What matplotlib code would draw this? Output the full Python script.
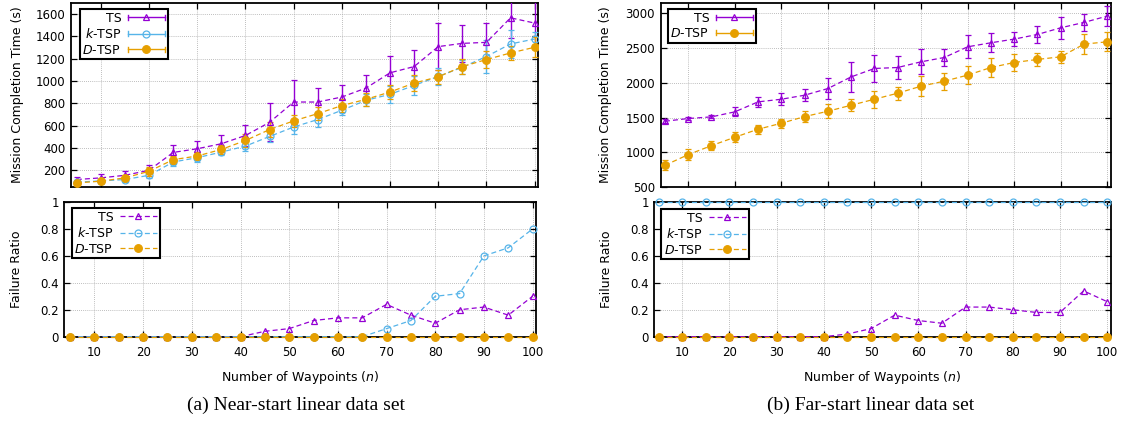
import matplotlib
matplotlib.use("Agg")
import matplotlib.pyplot as plt
from matplotlib.lines import Line2D
from matplotlib.legend_handler import HandlerBase
from matplotlib.ticker import FuncFormatter

# ---------------- data ----------------
n = [5, 10, 15, 20, 25, 30, 35, 40, 45, 50, 55, 60, 65, 70, 75, 80, 85, 90, 95, 100]

# (a) near-start: mission completion time (mean, error)
ts_near = [117, 132, 155, 200, 360, 393, 438, 512, 630, 812, 812, 857, 937, 1074, 1130, 1309, 1338, 1347, 1567, 1520]
ts_near_err = [25, 35, 40, 48, 70, 70, 75, 95, 170, 195, 130, 110, 116, 155, 150, 210, 167, 170, 180, 200]
k_near = [93, 105, 117, 155, 274, 313, 363, 417, 503, 588, 655, 738, 827, 881, 961, 1041, 1124, 1220, 1333, 1377]
k_near_err = [15, 15, 20, 25, 40, 35, 30, 40, 50, 60, 65, 45, 55, 75, 83, 80, 65, 146, 125, 60]
d_near = [87, 102, 132, 191, 295, 328, 387, 467, 565, 643, 708, 780, 836, 902, 982, 1038, 1130, 1193, 1252, 1303]
d_near_err = [15, 20, 25, 40, 35, 35, 40, 60, 70, 57, 60, 55, 60, 65, 70, 60, 70, 80, 60, 90]

# (b) far-start: mission completion time (mean, error)
ts_far = [1447, 1486, 1510, 1582, 1726, 1764, 1822, 1918, 2086, 2207, 2221, 2303, 2365, 2519, 2577, 2630, 2697, 2793, 2870, 2962]
ts_far_err = [30, 20, 20, 65, 70, 90, 90, 150, 220, 190, 160, 180, 125, 165, 135, 105, 120, 160, 125, 145]
d_far = [812, 966, 1096, 1216, 1332, 1418, 1514, 1591, 1678, 1764, 1851, 1952, 2024, 2111, 2221, 2293, 2337, 2375, 2558, 2591]
d_far_err = [70, 77, 60, 70, 65, 65, 75, 100, 85, 125, 95, 145, 125, 125, 140, 120, 100, 85, 145, 135]

# failure ratios
ts_fail_near = [0, 0, 0, 0, 0, 0, 0, 0, 0.04, 0.06, 0.12, 0.14, 0.14, 0.24, 0.16, 0.10, 0.20, 0.22, 0.16, 0.30]
k_fail_near = [0, 0, 0, 0, 0, 0, 0, 0, 0, 0, 0, 0, 0, 0.06, 0.12, 0.30, 0.32, 0.60, 0.66, 0.80]
d_fail_near = [0] * 20
ts_fail_far = [0, 0, 0, 0, 0, 0, 0, 0, 0.02, 0.06, 0.16, 0.12, 0.10, 0.22, 0.22, 0.20, 0.18, 0.18, 0.34, 0.26]
k_fail_far = [1] * 20
d_fail_far = [0] * 20

labels = ["TS", "$k$-TSP", "$D$-TSP"]
xticks = [10, 20, 30, 40, 50, 60, 70, 80, 90, 100]

# ---------------- style ----------------
C_TS = "#9400D3"
C_K = "#56B4E9"
C_D = "#E69F00"
DASH = (0, (4, 2.5))
FS = 9
TFS = 8.5

STY = {
    "TS": dict(color=C_TS, marker="^", ms=4.5, mfc="none", mec=C_TS, mew=0.9),
    "K": dict(color=C_K, marker="o", ms=5, mfc="none", mec=C_K, mew=0.9),
    "D": dict(color=C_D, marker="o", ms=5.5, mfc=C_D, mec=C_D, mew=0.9),
}

W, H = 1147, 421
fig = plt.figure(figsize=(W / 100, H / 100), dpi=100)


def rect(l, t, r, b):
    return [l / W, (H - b) / H, (r - l) / W, (b - t) / H]


class ErrKey(HandlerBase):
    def create_artists(self, legend, orig, xd, yd, w, h, fs, trans):
        y = -yd + h / 2
        x0, x1 = -xd, -xd + w
        c = orig.get_color()
        arts = [Line2D([x0, x1], [y, y], color=c, lw=1.0, transform=trans)]
        cap = h * 0.55
        for x in (x0, x1):
            arts.append(Line2D([x, x], [y - cap / 2, y + cap / 2], color=c, lw=1.0, transform=trans))
        arts.append(Line2D([(x0 + x1) / 2], [y], marker=orig.get_marker(), ms=orig.get_markersize(),
                           mfc=orig.get_markerfacecolor(), mec=c, mew=orig.get_markeredgewidth(),
                           ls="none", transform=trans))
        return arts


def style_axes(ax, xlim, show_xlabels):
    ax.set_xlim(*xlim)
    ax.set_xticks(xticks)
    ax.tick_params(axis="both", direction="in", top=True, right=True, length=4, width=0.9,
                   labelsize=TFS, pad=4)
    ax.tick_params(axis="x", pad=7)
    if not show_xlabels:
        ax.tick_params(axis="x", labelbottom=False)
    ax.grid(True, color="#a8a8a8", lw=0.6, ls=(0, (1, 1.5)))
    ax.set_axisbelow(True)
    for s in ax.spines.values():
        s.set_linewidth(1.3)
        s.set_color("black")


def legend(ax, handles, labs, anchor, hmap=None):
    lg = ax.legend(handles, labs, loc="upper left", bbox_to_anchor=anchor, markerfirst=False,
                   fontsize=FS, frameon=True, fancybox=False, framealpha=1, edgecolor="black",
                   borderpad=0.2, borderaxespad=0, handlelength=3.0, handletextpad=0.5,
                   labelspacing=0.2, numpoints=1, handler_map=hmap or {})
    lg.get_frame().set_linewidth(1.5)
    return lg


def err_series(ax, y, e, key):
    s = STY[key]
    cont = ax.errorbar(n, y, yerr=e, color=s["color"], marker=s["marker"], ms=s["ms"], mfc=s["mfc"],
                       mec=s["mec"], mew=s["mew"], ls=DASH, lw=0.9, elinewidth=1.0, capsize=2.5,
                       capthick=1.0, zorder=3)
    return cont[0]


def fail_series(ax, y, key):
    s = STY[key]
    ln, = ax.plot(n, y, color=s["color"], marker=s["marker"], ms=s["ms"], mfc=s["mfc"], mec=s["mec"],
                  mew=s["mew"], ls=DASH, lw=0.9, clip_on=False, zorder=3)
    return ln


# ---------------- (a) near-start ----------------
XL_A = (3.8, 100.7)
ax1 = fig.add_axes(rect(71, 3, 538, 187))
h1 = err_series(ax1, ts_near, ts_near_err, "TS")
h2 = err_series(ax1, k_near, k_near_err, "K")
h3 = err_series(ax1, d_near, d_near_err, "D")
style_axes(ax1, XL_A, False)
ax1.set_ylim(50, 1700)
ax1.set_yticks([200, 400, 600, 800, 1000, 1200, 1400, 1600])
ax1.set_ylabel("Mission Completion Time (s)", fontsize=FS)
ax1.yaxis.set_label_coords(17.5 / W, (H - 95) / H, transform=fig.transFigure)
ax1.yaxis.label.set_va("center")
legend(ax1, [h1, h2, h3], labels, (9 / 467, 1 - 6 / 184), {h1: ErrKey(), h2: ErrKey(), h3: ErrKey()})

ax2 = fig.add_axes(rect(64.3, 202, 536, 336.7))
g1 = fail_series(ax2, ts_fail_near, "TS")
g2 = fail_series(ax2, k_fail_near, "K")
g3 = fail_series(ax2, d_fail_near, "D")
style_axes(ax2, XL_A, True)
ax2.set_ylim(0, 1)
ax2.set_yticks([0, 0.2, 0.4, 0.6, 0.8, 1])
ax2.yaxis.set_major_formatter(FuncFormatter(lambda v, p: "%g" % v))
ax2.set_ylabel("Failure Ratio", fontsize=FS)
ax2.yaxis.set_label_coords(17 / W, (H - 269) / H, transform=fig.transFigure)
ax2.yaxis.label.set_va("center")
ax2.set_xlabel("Number of Waypoints ($n$)", fontsize=FS)
ax2.xaxis.set_label_coords(300 / W, (H - 378) / H, transform=fig.transFigure)
ax2.xaxis.label.set_va("center")
legend(ax2, [g1, g2, g3], labels, (7.7 / 471.7, 1 - 6 / 134.7))

# ---------------- (b) far-start ----------------
XL_B = (4.1, 100.8)
ax3 = fig.add_axes(rect(660.7, 3, 1111, 187))
f1 = err_series(ax3, ts_far, ts_far_err, "TS")
f3 = err_series(ax3, d_far, d_far_err, "D")
style_axes(ax3, XL_B, False)
ax3.set_ylim(500, 3150)
ax3.set_yticks([500, 1000, 1500, 2000, 2500, 3000])
ax3.set_ylabel("Mission Completion Time (s)", fontsize=FS)
ax3.yaxis.set_label_coords(606 / W, (H - 95) / H, transform=fig.transFigure)
ax3.yaxis.label.set_va("center")
legend(ax3, [f1, f3], [labels[0], labels[2]], (7.3 / 450.3, 1 - 6 / 184), {f1: ErrKey(), f3: ErrKey()})

ax4 = fig.add_axes(rect(654.3, 202, 1111, 336.7))
e1 = fail_series(ax4, ts_fail_far, "TS")
e2 = fail_series(ax4, k_fail_far, "K")
e3 = fail_series(ax4, d_fail_far, "D")
style_axes(ax4, XL_B, True)
ax4.set_ylim(0, 1)
ax4.set_yticks([0, 0.2, 0.4, 0.6, 0.8, 1])
ax4.yaxis.set_major_formatter(FuncFormatter(lambda v, p: "%g" % v))
ax4.set_ylabel("Failure Ratio", fontsize=FS)
ax4.yaxis.set_label_coords(607 / W, (H - 269) / H, transform=fig.transFigure)
ax4.yaxis.label.set_va("center")
ax4.set_xlabel("Number of Waypoints ($n$)", fontsize=FS)
ax4.xaxis.set_label_coords(882 / W, (H - 378) / H, transform=fig.transFigure)
ax4.xaxis.label.set_va("center")
legend(ax4, [e1, e2, e3], labels, (6.7 / 456.7, 1 - 7 / 134.7))

# ---------------- captions ----------------
fig.text(296 / W, (H - 405) / H, "(a) Near-start linear data set", ha="center", va="center",
         fontsize=14, family="Liberation Serif")
fig.text(871 / W, (H - 405) / H, "(b) Far-start linear data set", ha="center", va="center",
         fontsize=14, family="Liberation Serif")

fig.savefig("out.png", dpi=100)
